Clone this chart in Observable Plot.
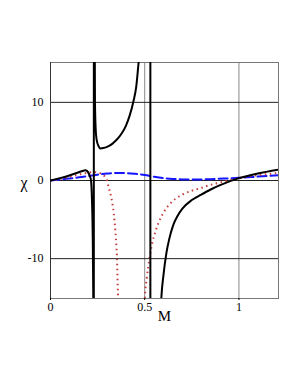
<!DOCTYPE html>
<html>
<head>
<meta charset="utf-8">
<script src="https://cdn.jsdelivr.net/npm/d3@7"></script>
<script src="https://cdn.jsdelivr.net/npm/@observablehq/plot@0.6"></script>
<style>
  html, body { margin: 0; padding: 0; background: #fff; }
</style>
</head>
<body>
<div id="chart"></div>
<script>
// Series (M on x, chi on y)
const blackM   = [0, 0.05, 0.1, 0.15, 0.17, 0.185, 0.195, 0.205, 0.21, 0.215, 0.22, 0.224, 0.227, 0.2285, 0.2295,
                  0.2305, 0.233, 0.236, 0.24, 0.245, 0.255, 0.265, 0.28, 0.3, 0.32, 0.34, 0.36, 0.38, 0.4, 0.42, 0.44, 0.455, 0.468, 0.48, 0.5, 0.515, 0.529,
                  0.531, 0.56, 0.588, 0.6, 0.615, 0.63, 0.65, 0.675, 0.7, 0.75, 0.8, 0.85, 0.9, 1.0, 1.1, 1.21];
const blackChi = [0, 0.3, 0.65, 1.05, 1.22, 1.3, 1.2, 0.8, 0.5, 0, -2.5, -7, -15, -40, -300,
                  300, 30, 10, 6.5, 5.2, 4.4, 4.1, 4.15, 4.3, 4.55, 4.95, 5.45, 6.1, 7.0, 8.3, 10.1, 12.0, 15.2, 18, 25, 45, 300,
                  -300, -40, -15.1, -12, -9.3, -7.5, -5.8, -4.5, -3.6, -2.5, -1.8, -1.15, -0.6, 0.3, 0.9, 1.4];

const redM   = [0, 0.05, 0.095, 0.166, 0.2, 0.237, 0.263, 0.29, 0.3, 0.31, 0.322, 0.336, 0.344, 0.35, 0.353, 0.356, 0.359, 0.365, 0.43,
                0.49, 0.5, 0.512, 0.525, 0.54, 0.556, 0.575, 0.6, 0.63, 0.66, 0.7, 0.75, 0.8, 0.85, 0.91, 1.0, 1.1, 1.21];
const redChi = [0, 0.2, 0.43, 0.85, 1.0, 1.07, 0.94, 0.43, 0, -1, -2.1, -4.3, -6.4, -8.5, -10, -12.8, -15.5, -25, -200,
                -25, -15.3, -12.3, -10, -8.0, -6.6, -5.3, -4.1, -3.1, -2.4, -1.8, -1.3, -0.95, -0.55, -0.2, 0.3, 0.68, 0.97];

const blueM   = [0, 0.05, 0.1, 0.166, 0.2, 0.25, 0.3, 0.35, 0.4, 0.45, 0.5, 0.55, 0.6, 0.65, 0.7, 0.76, 0.85, 0.92, 1.0, 1.1, 1.21];
const blueChi = [0, 0.12, 0.26, 0.44, 0.57, 0.75, 0.9, 0.97, 0.95, 0.85, 0.7, 0.48, 0.3, 0.2, 0.14, 0.12, 0.17, 0.25, 0.34, 0.5, 0.67];

const xTicks = [0, 0.5, 1];
const yTicks = [-10, 0, 10];
const xLabel = "M";
const yLabel = "χ";

const toRows = (ms, cs) => ms.map((m, i) => ({M: m, chi: cs[i]}));
const black = toRows(blackM, blackChi);
const red = toRows(redM, redChi);
const blue = toRows(blueM, blueChi);

const chart = Plot.plot({
  width: 300,
  height: 388,
  marginLeft: 50,
  marginRight: 22,
  marginTop: 62,
  marginBottom: 90,
  style: {fontFamily: "'Liberation Serif', 'DejaVu Serif', serif", fontSize: "12px", background: "#fff", color: "#000"},
  x: {domain: [0, 1.21]},
  y: {domain: [-15.1, 15.1]},
  marks: [
    Plot.ruleX(xTicks.filter(d => d !== 0), {stroke: "#888", strokeWidth: 1}),
    Plot.ruleY(yTicks, {stroke: "#222", strokeWidth: 1}),
    Plot.frame({stroke: "#777", strokeWidth: 1}),
    Plot.ruleX([0], {stroke: "#333", strokeWidth: 1}),
    Plot.line(blue, {x: "M", y: "chi", stroke: "#1515ff", strokeWidth: 2, strokeDasharray: "9,4", curve: "monotone-x", clip: true}),
    Plot.line(red, {x: "M", y: "chi", stroke: "#c43c3c", strokeWidth: 2, strokeDasharray: "1.5,3.5", strokeLinecap: "butt", curve: "monotone-x", clip: true}),
    Plot.line(black, {x: "M", y: "chi", stroke: "#000", strokeWidth: 2, curve: "monotone-x", clip: true}),
    Plot.axisX({ticks: xTicks, tickSize: 2, tickPadding: 2, tickFormat: d => String(d), label: null, fill: "#000"}),
    Plot.axisY({ticks: yTicks, tickSize: 0, tickPadding: 7, tickFormat: d => String(d), label: null, fill: "#000"}),
    Plot.text([xLabel], {frameAnchor: "bottom", dy: 22, fontSize: 15, fill: "#000"}),
    Plot.text([yLabel], {frameAnchor: "left", dx: -30, dy: 2, fontSize: 16, fill: "#000"})
  ]
});
document.getElementById("chart").appendChild(chart);
</script>
</body>
</html>
